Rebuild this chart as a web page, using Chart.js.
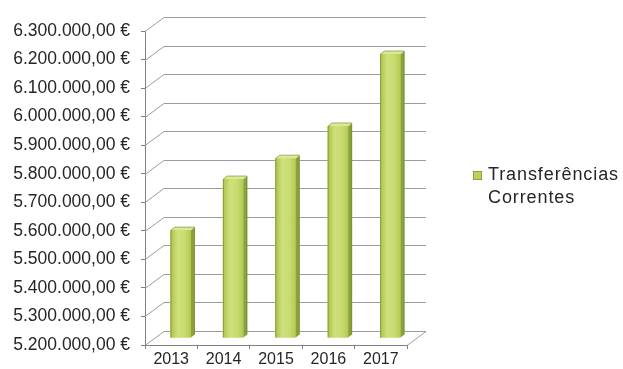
<!DOCTYPE html>
<html>
<head>
<meta charset="utf-8">
<script src="https://cdn.jsdelivr.net/npm/chart.js@4/dist/chart.umd.min.js"></script>
<style>
    html, body { margin: 0; padding: 0; background: #ffffff; }
    #wrap { position: relative; width: 623px; height: 369px; }
    #chart { display: block; }
    #legend {
        position: absolute; left: 472px; top: 163px;
        font: 18px "Liberation Sans", Arial, sans-serif; color: #262626;
        line-height: 23px; letter-spacing: 0.9px;
    }
    #legend .swatch {
        position: absolute; left: 1px; top: 8px; width: 7px; height: 7px;
        background: #bcd25c; border: 1px solid #8da23a;
    }
    #legend .txt { margin-left: 16px; white-space: nowrap; }
</style>
</head>
<body>
<div id="wrap">
    <canvas id="chart" width="623" height="369"></canvas>
    <div id="legend"><span class="swatch"></span><div class="txt">Transferências<br>Correntes</div></div>
</div>
<script>
// --- Data ---
const years = ['2013', '2014', '2015', '2016', '2017'];
const transferencias = [5578000, 5757000, 5830000, 5943000, 6195000];
const yMin = 5200000;
const yMax = 6300000;
const yStep = 100000;

const FONT = '"Liberation Sans", Arial, sans-serif';

// euro format: 6.300.000,00 €
function formatEuro(v) {
    const int = Math.round(v).toString().replace(/\B(?=(\d{3})+(?!\d))/g, '.');
    return int + ',00 €';
}

// depth of the back wall (pixels)
const DX = 19, DY = -14;

// --- 3D look: back wall grid, floor edge, bar side/top faces ---
const depthPlugin = {
    id: 'depth',
    beforeDatasetsDraw(chart) {
        const { ctx, chartArea: a, scales: { y } } = chart;
        ctx.save();
        ctx.strokeStyle = '#9c9c9c';
        ctx.lineWidth = 1;
        y.ticks.forEach(t => {
            const py = Math.round(y.getPixelForValue(t.value)) + 0.5;
            ctx.beginPath();
            ctx.moveTo(a.left, py);
            ctx.lineTo(a.left + DX, py + DY);
            ctx.lineTo(a.right + DX, py + DY);
            ctx.stroke();
        });
        const by = Math.round(a.bottom) + 0.5;
        ctx.beginPath();
        ctx.moveTo(a.right, by);
        ctx.lineTo(a.right + DX, by + DY);
        ctx.stroke();
        ctx.restore();

        // bars sit halfway into the depth
        ctx.save();
        ctx.translate(DX / 2, DY / 2);
    },
    afterDatasetsDraw(chart) {
        const { ctx } = chart;
        const sx = 4, sy = -3;
        chart.getDatasetMeta(0).data.forEach(bar => {
            const l = bar.x - bar.width / 2, r = bar.x + bar.width / 2;
            const top = bar.y, base = bar.base;

            // front face shading
            const g = ctx.createLinearGradient(l, 0, r, 0);
            g.addColorStop(0, '#a9c24a');
            g.addColorStop(0.35, '#cfe07c');
            g.addColorStop(0.7, '#c8db70');
            g.addColorStop(1, '#b3ca52');
            ctx.fillStyle = g;
            ctx.fillRect(l, top, r - l, base - top);

            // right side
            ctx.fillStyle = '#8ba23a';
            ctx.beginPath();
            ctx.moveTo(r, top);
            ctx.lineTo(r + sx, top + sy);
            ctx.lineTo(r + sx, base + sy);
            ctx.lineTo(r, base);
            ctx.closePath();
            ctx.fill();

            // top face
            ctx.fillStyle = '#dbe895';
            ctx.beginPath();
            ctx.moveTo(l, top);
            ctx.lineTo(l + sx, top + sy);
            ctx.lineTo(r + sx, top + sy);
            ctx.lineTo(r, top);
            ctx.closePath();
            ctx.fill();

            ctx.strokeStyle = 'rgba(110,135,40,0.6)';
            ctx.lineWidth = 1;
            ctx.beginPath();
            ctx.moveTo(l + 0.5, base);
            ctx.lineTo(l + 0.5, top);
            ctx.lineTo(l + sx + 0.5, top + sy);
            ctx.lineTo(r + sx - 0.5, top + sy);
            ctx.lineTo(r + sx - 0.5, base + sy);
            ctx.stroke();
        });
        ctx.restore();
    }
};

new Chart(document.getElementById('chart'), {
    type: 'bar',
    data: {
        labels: years,
        datasets: [{
            label: 'Transferências Correntes',
            data: transferencias,
            base: yMin,
            backgroundColor: '#c5d867',
            borderWidth: 0,
            categoryPercentage: 1,
            barPercentage: 0.39
        }]
    },
    options: {
        responsive: false,
        animation: false,
        layout: { padding: { left: 0, top: 31, right: 216, bottom: 0 } },
        plugins: {
            legend: { display: false },
            tooltip: { enabled: false }
        },
        scales: {
            x: {
                grid: { offset: true, drawOnChartArea: false, tickLength: 4, color: '#808080' },
                border: { color: '#808080' },
                ticks: {
                    color: '#262626', font: { family: FONT, size: 16 }, padding: 1,
                    maxRotation: 0, minRotation: 0, autoSkip: false
                },
                afterFit(s) { s.height = 24; }
            },
            y: {
                min: yMin,
                max: yMax,
                grid: { drawOnChartArea: false, tickLength: 4, color: '#808080' },
                border: { color: '#808080' },
                ticks: {
                    stepSize: yStep,
                    color: '#262626',
                    font: { family: FONT, size: 17.5 },
                    padding: 11,
                    callback: v => formatEuro(v)
                },
                afterFit(s) { s.width = 145; }
            }
        }
    },
    plugins: [depthPlugin]
});
</script>
</body>
</html>
